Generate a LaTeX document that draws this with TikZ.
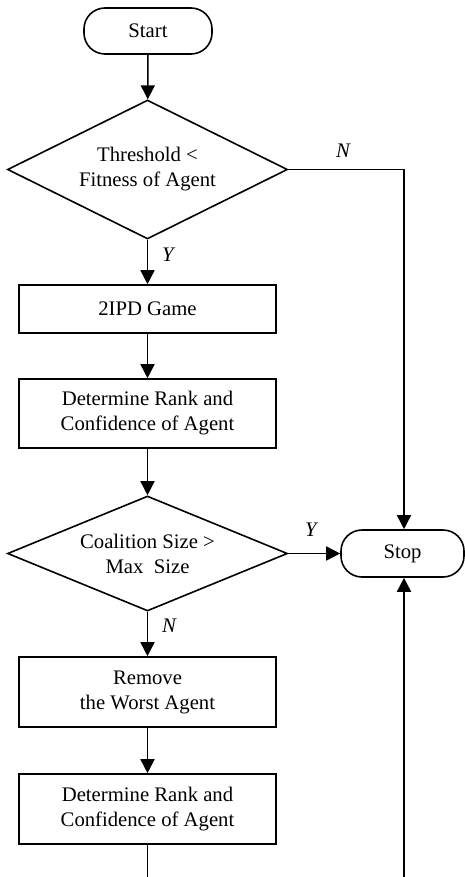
\documentclass[tikz,border=0pt]{standalone}
\usepackage{fontspec}
\setmainfont{Liberation Serif}
\usetikzlibrary{shapes.geometric,arrows.meta}
\begin{document}
\begin{tikzpicture}[x=1pt,y=-1pt,
  line width=1.6pt,
  every node/.style={font=\fontsize{20.7}{25}\selectfont},
  term/.style={draw, rectangle, rounded corners=21pt, align=center, inner sep=0pt},
  procbox/.style={draw, rectangle, align=center, minimum width=257pt, inner sep=0pt},
  decision/.style={draw, diamond, aspect=2.5, align=center, inner sep=0pt, minimum width=280pt},
  lbl/.style={font=\fontsize{20.7}{25}\selectfont\itshape},
  arr/.style={-{Triangle[length=14pt,width=14pt]}}]
\useasboundingbox (0,0) rectangle (465,877);
\node[term, minimum width=128pt, minimum height=46pt] (start) at (148,31) {Start};
\node[decision, minimum height=139pt] (d1) at (147.5,169.5) {Threshold <\\Fitness of Agent};
\node[procbox, minimum height=48pt] (game) at (147.5,309) {2IPD Game};
\node[procbox, minimum height=69pt] (rank1) at (147.5,413.5) {Determine Rank and\\Confidence of Agent};
\node[decision, minimum height=115pt] (d2) at (147.5,553.5) {Coalition Size >\\Max~~Size};
\node[term, minimum width=123pt, minimum height=47pt] (stop) at (402.5,553.5) {Stop};
\node[procbox, minimum height=70pt] (remove) at (147.5,692) {Remove\\the Worst Agent};
\node[procbox, minimum height=70pt] (rank2) at (147.5,809) {Determine Rank and\\Confidence of Agent};
\coordinate (c1) at (404,169.5);
\coordinate (bl) at (147.5,877);
\coordinate (br) at (404,877);
\draw[arr] (start) -- (d1);
\draw[arr] (d1) -- (game);
\draw[arr] (game) -- (rank1);
\draw[arr] (rank1) -- (d2);
\draw[arr] (d2) -- (remove);
\draw[arr] (remove) -- (rank2);
\draw[arr] (d2) -- (stop);
\draw[arr] (d1.east) -- (c1) -- (stop.north -| c1);
\draw (rank2) -- (bl);
\draw[arr] (br) -- (stop.south -| br);
\node[lbl] (n1) at (343,151) {N};
\node[lbl] (y1) at (168,255) {Y};
\node[lbl] (y2) at (311,530) {Y};
\node[lbl] (n2) at (169,626) {N};
\end{tikzpicture}
\end{document}
